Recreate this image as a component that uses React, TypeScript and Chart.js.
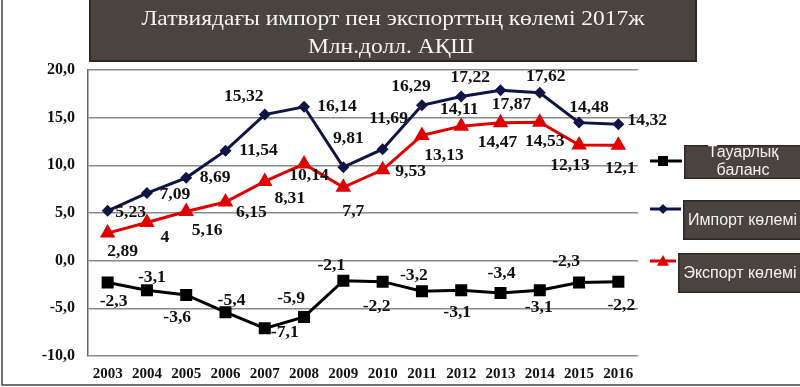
import React, { useEffect, useRef } from "react";
import { Chart, registerables } from "chart.js";

Chart.register(...registerables);

const years = ["2003", "2004", "2005", "2006", "2007", "2008", "2009", "2010", "2011", "2012", "2013", "2014", "2015", "2016"];
const importVals = [5.23, 7.09, 8.69, 11.54, 15.32, 16.14, 9.81, 11.69, 16.29, 17.22, 17.87, 17.62, 14.48, 14.32];
const exportVals = [2.89, 4, 5.16, 6.15, 8.31, 10.14, 7.7, 9.53, 13.13, 14.11, 14.47, 14.53, 12.13, 12.1];
const balanceVals = [-2.3, -3.1, -3.6, -5.4, -7.1, -5.9, -2.1, -2.2, -3.2, -3.1, -3.4, -3.1, -2.3, -2.2];

const titleLines = ["Латвиядағы импорт пен экспорттың көлемі 2017ж", "Млн.долл. АҚШ"];
const seriesNames = ["Тауарлық баланс", "Импорт көлемі", "Экспорт көлемі"];
const yMin = -10;
const yMax = 20;
const yStep = 5;

// label placement offsets (dx, dy) relative to each point
const importLabelOffsets = [[23, 2], [28, 2], [29, 0], [33, 0], [-21, -18], [33, 0], [5, -28], [6, -30], [-11, -19], [9, -19], [11, 15], [6, -16], [10, -15], [29, -3]];
const exportLabelOffsets = [[15, 19], [18, 15], [21, 19], [26, 11], [25, 17], [5, 12], [10, 25], [28, 2], [22, 20], [-2, -16], [-3, 20], [5, 20], [-9, 21], [2, 24]];
const balanceLabelOffsets = [[6, 19], [5, -12], [-9, 23], [6, -11], [20, 5], [-13, -18], [-12, -15], [-6, 25], [-8, -15], [-4, 23], [1, -19], [-1, 18], [-13, -21], [3, 24]];

const NAVY = "#0e1545";
const RED = "#e00000";
const BLACK = "#000000";
const BOX = "#4b433f";

const fmt = (v: number) => String(v).replace(".", ",");

function drawScaledText(ctx: CanvasRenderingContext2D, text: string, x: number, y: number, sx: number) {
  ctx.save();
  ctx.translate(x, y);
  ctx.scale(sx, 1);
  ctx.fillText(text, 0, 0);
  ctx.restore();
}

function marker(ctx: CanvasRenderingContext2D, style: string, x: number, y: number, r: number, color: string) {
  ctx.save();
  ctx.fillStyle = color;
  ctx.beginPath();
  if (style === "rect") {
    ctx.rect(x - r, y - r, 2 * r, 2 * r);
  } else if (style === "rectRot") {
    ctx.moveTo(x, y - r);
    ctx.lineTo(x + r, y);
    ctx.lineTo(x, y + r);
    ctx.lineTo(x - r, y);
    ctx.closePath();
  } else {
    ctx.moveTo(x, y - r);
    ctx.lineTo(x + r, y + r * 0.8);
    ctx.lineTo(x - r, y + r * 0.8);
    ctx.closePath();
  }
  ctx.fill();
  ctx.restore();
}

const decorPlugin = {
  id: "decor",
  beforeDraw(chart: any) {
    const ctx: CanvasRenderingContext2D = chart.ctx;
    ctx.save();
    ctx.fillStyle = "#ffffff";
    ctx.fillRect(0, 0, chart.width, chart.height);
    // frame lines
    ctx.strokeStyle = "#444444";
    ctx.lineWidth = 1.5;
    ctx.beginPath();
    ctx.moveTo(2, 0);
    ctx.lineTo(2, 385);
    ctx.lineTo(800, 385);
    ctx.stroke();
    // title box
    ctx.fillStyle = BOX;
    ctx.fillRect(89, 0, 608, 62);
    ctx.strokeStyle = "#2f2926";
    ctx.lineWidth = 2;
    ctx.strokeRect(90, -2, 606, 63);
    ctx.fillStyle = "#f4f4f4";
    ctx.font = "21px 'Liberation Serif', 'DejaVu Serif', serif";
    ctx.textAlign = "center";
    ctx.textBaseline = "middle";
    drawScaledText(ctx, titleLines[0], 393, 19, 1.12);
    drawScaledText(ctx, titleLines[1], 391, 47, 1.12);
    // legend
    const boxes = [
      { x: 684, y: 145, h: 34, lines: ["Тауарлық", "баланс"], color: BLACK, style: "rect", ly: 161, r: 5 },
      { x: 683, y: 200, h: 40, lines: [seriesNames[1]], color: NAVY, style: "rectRot", ly: 209, r: 5 },
      { x: 678, y: 253, h: 40, lines: [seriesNames[2]], color: RED, style: "triangle", ly: 261, r: 6 },
    ];
    ctx.font = "16px 'Liberation Sans', Arial, sans-serif";
    for (const b of boxes) {
      ctx.fillStyle = BOX;
      ctx.fillRect(b.x, b.y, 800 - b.x, b.h);
      ctx.strokeStyle = "#2f2926";
      ctx.lineWidth = 1.5;
      ctx.strokeRect(b.x + 0.75, b.y + 0.75, 800 - b.x, b.h - 1.5);
      ctx.fillStyle = "#f2f2f2";
      const cx = (b.x + 800) / 2 + 1;
      if (b.lines.length === 2) {
        ctx.fillText(b.lines[0], cx, b.y + 8);
        ctx.fillText(b.lines[1], cx, b.y + 26);
      } else {
        ctx.fillText(b.lines[0], cx, b.y + b.h / 2 + 1);
      }
      ctx.strokeStyle = b.color;
      ctx.lineWidth = 3;
      ctx.beginPath();
      ctx.moveTo(650, b.ly);
      ctx.lineTo(b.x - 2, b.ly);
      ctx.stroke();
      marker(ctx, b.style, 663, b.ly, b.r, b.color);
    }
    ctx.restore();
  },
  afterDatasetsDraw(chart: any) {
    const ctx: CanvasRenderingContext2D = chart.ctx;
    const sets = [
      { vals: balanceVals, offs: balanceLabelOffsets, idx: 0 },
      { vals: importVals, offs: importLabelOffsets, idx: 1 },
      { vals: exportVals, offs: exportLabelOffsets, idx: 2 },
    ];
    ctx.save();
    ctx.fillStyle = "#111111";
    ctx.font = "bold 16px 'Liberation Serif', 'DejaVu Serif', serif";
    ctx.textAlign = "center";
    ctx.textBaseline = "middle";
    for (const s of sets) {
      const meta = chart.getDatasetMeta(s.idx);
      meta.data.forEach((pt: any, i: number) => {
        const [dx, dy] = s.offs[i];
        drawScaledText(ctx, fmt(s.vals[i]), pt.x + dx, pt.y + dy, 1.1);
      });
    }
    ctx.restore();
  },
};

export default function App() {
  const ref = useRef<HTMLCanvasElement | null>(null);
  useEffect(() => {
    if (!ref.current) return;
    const chart = new Chart(ref.current, {
      type: "line",
      data: {
        labels: years,
        datasets: [
          {
            label: seriesNames[0],
            data: balanceVals,
            borderColor: BLACK,
            backgroundColor: BLACK,
            borderWidth: 3,
            pointStyle: "rect",
            pointRadius: 8.5,
            pointBorderWidth: 0,
            tension: 0,
          },
          {
            label: seriesNames[1],
            data: importVals,
            borderColor: NAVY,
            backgroundColor: NAVY,
            borderWidth: 3,
            pointStyle: "rectRot",
            pointRadius: 6,
            pointBorderWidth: 0,
            tension: 0,
          },
          {
            label: seriesNames[2],
            data: exportVals,
            borderColor: RED,
            backgroundColor: RED,
            borderWidth: 3,
            pointStyle: "triangle",
            pointRadius: 9,
            pointBorderWidth: 0,
            tension: 0,
          },
        ],
      },
      options: {
        animation: false,
        responsive: false,
        devicePixelRatio: 1,
        layout: { padding: { top: 70, right: 162, left: 0, bottom: 0 } },
        plugins: { legend: { display: false }, tooltip: { enabled: false }, title: { display: false } },
        scales: {
          x: {
            offset: true,
            grid: { display: false, drawTicks: false },
            border: { display: false },
            ticks: {
              color: "#111111",
              padding: 9,
              maxRotation: 0,
              font: { family: "'Liberation Serif', serif", size: 15, weight: "bold" },
            },
            afterFit: (s: any) => {
              s.height = 31;
            },
          },
          y: {
            min: yMin,
            max: yMax,
            grid: { color: "#8a8a8a", lineWidth: 1.5, drawTicks: false },
            border: { display: true, color: "#666666", width: 1.5 },
            ticks: {
              stepSize: yStep,
              color: "#111111",
              padding: 13,
              font: { family: "'Liberation Serif', serif", size: 16, weight: "bold" },
              callback: (v: any) => Number(v).toFixed(1).replace(".", ","),
            },
            afterFit: (s: any) => {
              s.width = 88;
            },
          },
        },
      },
      plugins: [decorPlugin],
    });
    return () => chart.destroy();
  }, []);
  return (
    <div style={{ position: "fixed", left: 0, top: 0, width: 800, height: 387 }}>
      <canvas ref={ref} width={800} height={387} style={{ width: 800, height: 387 }} />
    </div>
  );
}
